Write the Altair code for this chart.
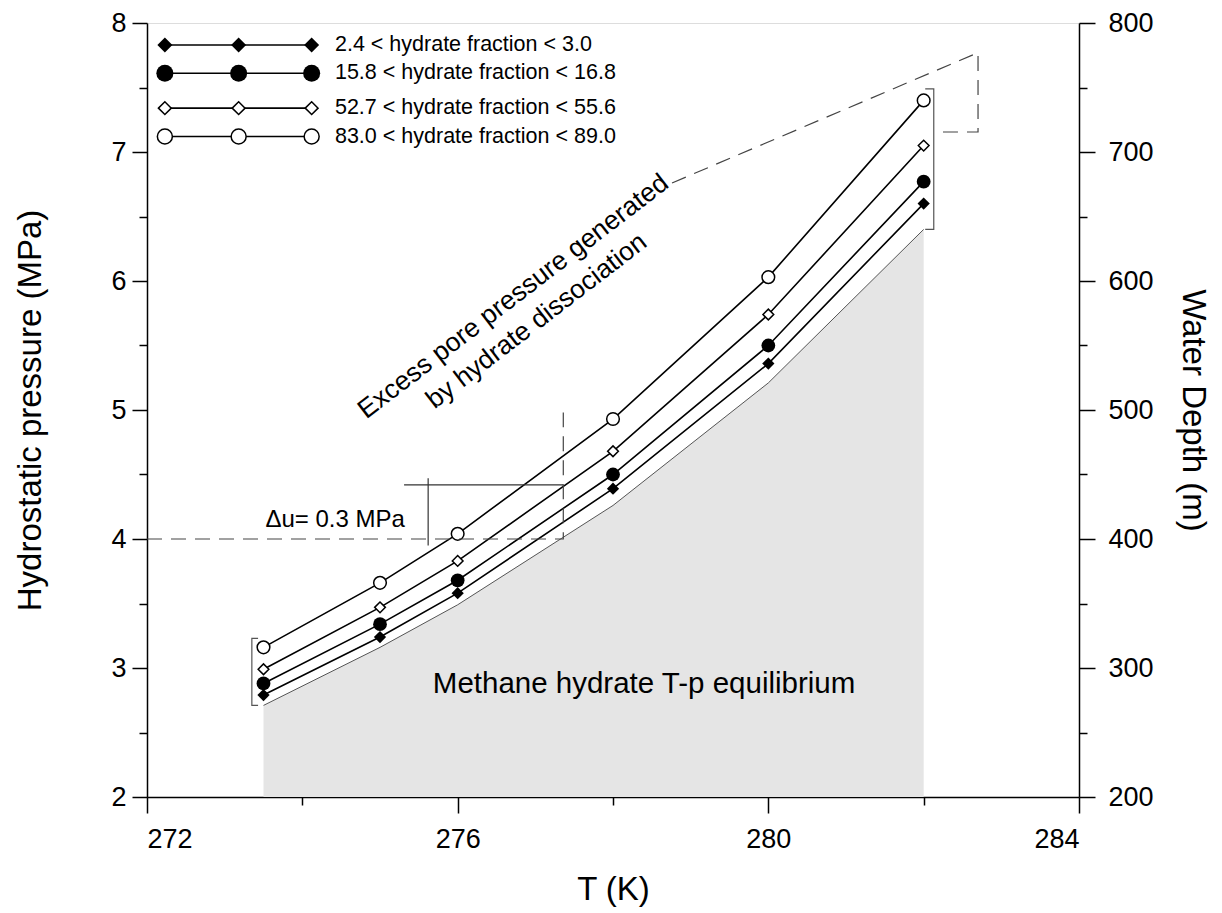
import altair as alt
import pandas as pd

# ---- data ----
T = [273.5, 275, 276, 278, 280, 282]
P_eq = [2.71, 3.16, 3.49, 4.26, 5.21, 6.40]
series_names = ["2.4 < hydrate fraction < 3.0", "15.8 < hydrate fraction < 16.8",
                "52.7 < hydrate fraction < 55.6", "83.0 < hydrate fraction < 89.0"]
P_s1 = [2.79, 3.24, 3.58, 4.39, 5.36, 6.60]   # filled diamond
P_s2 = [2.88, 3.34, 3.68, 4.50, 5.50, 6.77]   # filled circle
P_s3 = [2.99, 3.47, 3.83, 4.68, 5.74, 7.05]   # open diamond
P_s4 = [3.16, 3.66, 4.04, 4.93, 6.03, 7.40]   # open circle
series_P = [P_s1, P_s2, P_s3, P_s4]
series_shape = ["diamond", "circle", "diamond", "circle"]
series_filled = [True, True, False, False]
series_size = [150, 190, 115, 160]
legend_size = [225, 290, 165, 225]

legend_T = [272.23, 273.18, 274.12]
legend_P = [7.83, 7.61, 7.34, 7.12]
legend_text_T = 274.42

# annotation geometry (data coordinates)
dash_T = [272.0, 277.36, 277.36]
dash_P = [4.0, 4.0, 4.98]
du_h_T = [275.31, 277.36]
du_h_P = [4.42, 4.42]
du_v_T = [275.62, 275.62]
du_v_P = [4.47, 3.95]
excess_T = [278.76, 282.70, 282.70, 282.20]
excess_P = [6.76, 7.77, 7.155, 7.155]
brR_T = [282.02, 282.13, 282.13, 282.02]
brR_P = [7.49, 7.49, 6.40, 6.40]
brL_T = [273.43, 273.35, 273.35, 273.43]
brL_P = [3.23, 3.23, 2.71, 2.71]
depth = [200, 800]

FONT = "Liberation Sans"
xscale = alt.Scale(domain=[272, 284], nice=False, zero=False)
yscale = alt.Scale(domain=[2, 8], nice=False, zero=False)

xaxis = alt.Axis(
    values=[272, 274, 276, 278, 280, 282, 284],
    labelExpr="datum.value % 4 === 0 ? format(datum.value, 'd') : ''",
    tickSize={"condition": {"test": "datum.value % 4 === 0", "value": 16}, "value": 8},
    grid=False, domainColor="black", domainWidth=1.5, tickColor="black", tickWidth=1.5,
    labelFontSize=27, labelColor="black", labelPadding=13, labelFont=FONT,
    title="T (K)", titleFontSize=33, titleFontWeight="normal", titleColor="black", titleFont=FONT,
    titleX=466, titleY=102, titleBaseline="alphabetic", titleAlign="center",
)
yaxis = alt.Axis(
    values=[2, 2.5, 3, 3.5, 4, 4.5, 5, 5.5, 6, 6.5, 7, 7.5, 8],
    labelExpr="datum.value % 1 === 0 ? format(datum.value, 'd') : ''",
    tickSize={"condition": {"test": "datum.value % 1 === 0", "value": 15}, "value": 8},
    grid=False, domainColor="black", domainWidth=1.5, tickColor="black", tickWidth=1.5,
    labelFontSize=27, labelColor="black", labelPadding=6, labelFont=FONT,
    title="Hydrostatic pressure (MPa)", titleFontSize=33, titleFontWeight="normal",
    titleColor="black", titleFont=FONT,
    titleX=-117, titleY=387, titleAngle=270, titleBaseline="middle", titleAlign="center",
)
daxis = alt.Axis(
    orient="right",
    values=list(range(200, 801, 50)),
    labelExpr="datum.value % 100 === 0 ? format(datum.value, 'd') : ''",
    tickSize={"condition": {"test": "datum.value % 100 === 0", "value": 16}, "value": 8},
    grid=False, domainColor="black", domainWidth=1.5, tickColor="black", tickWidth=1.5,
    labelFontSize=27, labelColor="black", labelPadding=13, labelFont=FONT,
    title="Water Depth (m)", titleFontSize=33, titleFontWeight="normal",
    titleColor="black", titleFont=FONT,
    titleX=113, titleY=387, titleAngle=90, titleBaseline="middle", titleAlign="center",
)


def X(f):
    return alt.X(f"{f}:Q", scale=xscale, axis=xaxis)


def Y(f):
    return alt.Y(f"{f}:Q", scale=yscale, axis=yaxis)


layers = []

# equilibrium region
eq = pd.DataFrame({"T": T, "P": P_eq, "base": [2.0] * len(T)})
layers.append(alt.Chart(eq).mark_area(color="#e5e5e5", opacity=1).encode(
    x=X("T"), y=Y("P"), y2=alt.Y2("base:Q")))
layers.append(alt.Chart(eq).mark_line(color="#555555", strokeWidth=1).encode(
    x=X("T"), y=Y("P")))

# series
for i in range(4):
    d = pd.DataFrame({"T": T, "P": series_P[i], "series": series_names[i]})
    layers.append(alt.Chart(d).mark_line(color="black", strokeWidth=1.6).encode(
        x=X("T"), y=Y("P")))
    if series_filled[i]:
        pm = alt.Chart(d).mark_point(shape=series_shape[i], filled=True, color="black",
                                     opacity=1, size=series_size[i])
    else:
        pm = alt.Chart(d).mark_point(shape=series_shape[i], filled=True, fill="white",
                                     stroke="black", strokeWidth=1.5, opacity=1,
                                     size=series_size[i])
    layers.append(pm.encode(x=X("T"), y=Y("P")))

# legend (drawn inside the plot)
for i in range(4):
    ld = pd.DataFrame({"T": legend_T, "P": [legend_P[i]] * 3})
    layers.append(alt.Chart(ld).mark_line(color="black", strokeWidth=1.6).encode(
        x=X("T"), y=Y("P")))
    if series_filled[i]:
        pm = alt.Chart(ld).mark_point(shape=series_shape[i], filled=True, color="black",
                                      opacity=1, size=legend_size[i])
    else:
        pm = alt.Chart(ld).mark_point(shape=series_shape[i], filled=True, fill="white",
                                      stroke="black", strokeWidth=1.5, opacity=1,
                                      size=legend_size[i])
    layers.append(pm.encode(x=X("T"), y=Y("P")))
    lt = pd.DataFrame({"T": [legend_text_T], "P": [legend_P[i]], "label": [series_names[i]]})
    layers.append(alt.Chart(lt).mark_text(align="left", baseline="middle", fontSize=21.5,
                                          font=FONT, color="black").encode(
        x=X("T"), y=Y("P"), text="label:N"))


def polyline(ts, ps, dash=None, color="#333333", width=1.2):
    d = pd.DataFrame({"T": ts, "P": ps, "o": list(range(len(ts)))})
    kw = dict(color=color, strokeWidth=width)
    if dash:
        kw["strokeDash"] = dash
    return alt.Chart(d).mark_line(**kw).encode(x=X("T"), y=Y("P"), order="o:Q")


layers.append(polyline(dash_T, dash_P, dash=[15, 9], color="#444444"))
layers.append(polyline(du_h_T, du_h_P, color="#333333", width=1.2))
layers.append(polyline(du_v_T, du_v_P, color="#333333", width=1.2))
layers.append(polyline(excess_T, excess_P, dash=[15, 9], color="#444444"))
layers.append(polyline(brR_T, brR_P, color="#555555", width=1.2))
layers.append(polyline(brL_T, brL_P, color="#555555", width=1.2))

# texts
texts = [
    (275.32, 4.09, "\u0394u= 0.3 MPa", 24, "right", 0),
    (275.68, 2.81, "Methane hydrate T-p equilibrium", 29.5, "left", 0),
    (276.78, 5.83, "Excess pore pressure generated", 26.5, "center", 322.5),
    (277.08, 5.64, "by hydrate dissociation", 26.5, "center", 322.5),
]
for tx, py, s, fs, al, ang in texts:
    td = pd.DataFrame({"T": [tx], "P": [py], "label": [s]})
    layers.append(alt.Chart(td).mark_text(align=al, baseline="alphabetic", fontSize=fs,
                                          font=FONT, color="black", angle=ang).encode(
        x=X("T"), y=Y("P"), text="label:N"))

main = alt.layer(*layers)

dd = pd.DataFrame({"depth": depth})
depth_layer = alt.Chart(dd).mark_point(opacity=0).encode(
    y=alt.Y("depth:Q", scale=alt.Scale(domain=[200, 800], nice=False, zero=False), axis=daxis))

chart = alt.layer(main, depth_layer).resolve_scale(y="independent").properties(
    width=932, height=774, autosize="none",
    padding={"left": 147, "top": 23, "right": 143, "bottom": 116},
).configure_view(stroke="black", strokeWidth=1.5).configure(font=FONT)

chart.save("out.html", embed_options={"renderer": "svg", "actions": False})
